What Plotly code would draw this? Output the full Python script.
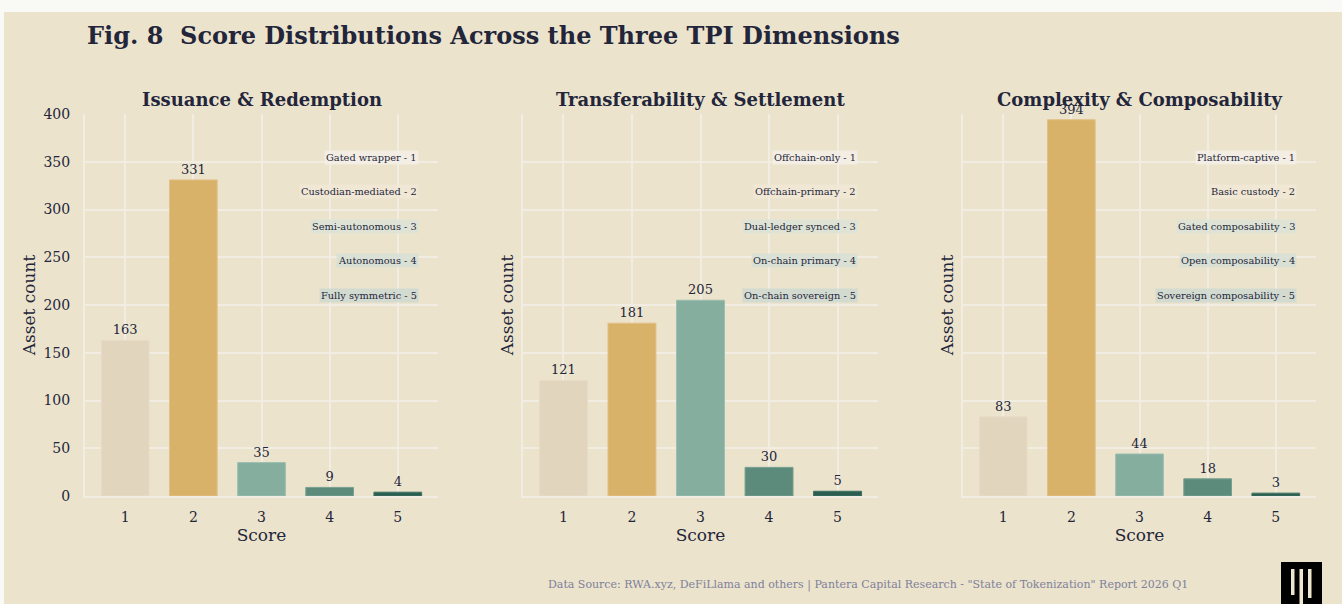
import plotly.graph_objects as go

# ---- data ----
scores = [1, 2, 3, 4, 5]
panel_titles = ["Issuance &amp; Redemption", "Transferability &amp; Settlement", "Complexity &amp; Composability"]
issuance_counts = [163, 331, 35, 9, 4]
transfer_counts = [121, 181, 205, 30, 5]
complexity_counts = [83, 394, 44, 18, 3]
issuance_labels = ["Gated wrapper", "Custodian-mediated", "Semi-autonomous", "Autonomous", "Fully symmetric"]
transfer_labels = ["Offchain-only", "Offchain-primary", "Dual-ledger synced", "On-chain primary", "On-chain sovereign"]
complexity_labels = ["Platform-captive", "Basic custody", "Gated composability", "Open composability", "Sovereign composability"]
y_ticks = [0, 50, 100, 150, 200, 250, 300, 350, 400]

title_text = "Fig. 8  Score Distributions Across the Three TPI Dimensions"
footer_text = 'Data Source: RWA.xyz, DeFiLlama and others | Pantera Capital Research - "State of Tokenization" Report 2026 Q1'

# ---- style ----
W, H = 1342, 604
ML, MR, MT, MB = 85, 26, 114, 108
PW = W - ML - MR
PH = H - MT - MB
FONT = "DejaVu Serif"
BG = "#ece3cd"
PAGE = "#f9f9f6"
GRID = "#f2ede3"
TXT = "#23263a"
bar_colors = ["#e2d5bd", "#d9b26a", "#86ae9f", "#5c8b7b", "#2b5e50"]
bar_lines = ["#e8dcc8", "#e2c08a", "#9cbfb1", "#78a091", "#3d7262"]
label_bgs = ["rgba(244,239,230,0.85)", "rgba(242,232,214,0.85)",
             "rgba(221,226,214,0.9)", "rgba(216,223,213,0.9)", "rgba(208,217,210,0.9)"]


def px_x(p):
    return (p - ML) / PW


def px_y(p):
    return (H - MB - p) / PH


domains = [[0.0, 353 / PW], [(523 - ML) / PW, (878 - ML) / PW], [(963 - ML) / PW, 1.0]]
counts_all = [issuance_counts, transfer_counts, complexity_counts]
labels_all = [issuance_labels, transfer_labels, complexity_labels]

fig = go.Figure()
annotations = []
for i in range(3):
    ax = "" if i == 0 else str(i + 1)
    fig.add_trace(go.Bar(
        x=scores, y=counts_all[i], xaxis="x" + ax, yaxis="y" + ax,
        width=0.7,
        marker=dict(color=bar_colors, line=dict(color=bar_lines, width=1)),
        text=[str(v) for v in counts_all[i]], textposition="outside",
        textfont=dict(family=FONT, size=13, color=TXT),
        cliponaxis=False, showlegend=False, hoverinfo="x+y",
    ))
    xa = dict(domain=domains[i], range=[0.41, 5.59], tickvals=scores,
              ticktext=[str(s) for s in scores],
              showgrid=True, gridcolor=GRID, gridwidth=2,
              showline=True, linecolor=GRID, linewidth=2,
              zeroline=False, ticks="", ticklabelstandoff=7,
              tickfont=dict(family=FONT, size=14, color=TXT),
              title=dict(text="Score", font=dict(family=FONT, size=17, color=TXT), standoff=4),
              anchor="y" + ax)
    ya = dict(domain=[0, 1], range=[0, 400], tickvals=y_ticks,
              showticklabels=(i == 0),
              showgrid=True, gridcolor=GRID, gridwidth=2,
              showline=True, linecolor=GRID, linewidth=2,
              zeroline=False, ticks="", ticklabelstandoff=10,
              tickfont=dict(family=FONT, size=14, color=TXT),
              title=dict(text="Asset count", font=dict(family=FONT, size=17, color=TXT),
                         standoff=4 if i == 0 else 3),
              anchor="x" + ax)
    fig.update_layout(**{"xaxis" + ax: xa, "yaxis" + ax: ya})

    # subplot title
    annotations.append(dict(
        text="<b>" + panel_titles[i] + "</b>", x=(domains[i][0] + domains[i][1]) / 2, y=px_y(100),
        xref="paper", yref="paper", xanchor="center", yanchor="middle", showarrow=False,
        font=dict(family=FONT, size=18, color=TXT)))
    # category labels
    for k in range(5):
        annotations.append(dict(
            text=f"{labels_all[i][k]} - {scores[k]}",
            x=0.945, y=0.887 - 0.0903 * k,
            xref=("x" + ax) + " domain", yref=("y" + ax) + " domain",
            xanchor="right", yanchor="middle", showarrow=False,
            bgcolor=label_bgs[k], borderpad=1,
            font=dict(family=FONT, size=9.8, color=TXT)))

# main title
annotations.append(dict(
    text="<b>" + title_text + "</b>", x=px_x(85), y=px_y(35), xref="paper", yref="paper",
    xanchor="left", yanchor="middle", showarrow=False,
    font=dict(family=FONT, size=24, color=TXT)))
# footer
annotations.append(dict(
    text=footer_text, x=px_x(868), y=px_y(585), xref="paper", yref="paper",
    xanchor="center", yanchor="middle", showarrow=False,
    font=dict(family=FONT, size=11, color="#7d819a")))

shapes = [
    dict(type="rect", xref="paper", yref="paper", layer="below",
         x0=px_x(4), x1=px_x(W + 2), y0=px_y(H + 2), y1=px_y(12),
         fillcolor=BG, line=dict(width=0)),
    # logo
    dict(type="rect", xref="paper", yref="paper", layer="above",
         x0=px_x(1281), x1=px_x(1322), y0=px_y(605), y1=px_y(562),
         fillcolor="#000000", line=dict(width=0)),
    dict(type="rect", xref="paper", yref="paper", layer="above",
         x0=px_x(1291), x1=px_x(1294.5), y0=px_y(595), y1=px_y(569),
         fillcolor="#efe6cf", line=dict(width=0)),
    dict(type="rect", xref="paper", yref="paper", layer="above",
         x0=px_x(1299.5), x1=px_x(1303), y0=px_y(605), y1=px_y(569),
         fillcolor="#efe6cf", line=dict(width=0)),
    dict(type="rect", xref="paper", yref="paper", layer="above",
         x0=px_x(1308), x1=px_x(1311.5), y0=px_y(598), y1=px_y(569),
         fillcolor="#efe6cf", line=dict(width=0)),
]

fig.update_layout(
    width=W, height=H, autosize=False,
    margin=dict(l=ML, r=MR, t=MT, b=MB),
    paper_bgcolor=PAGE, plot_bgcolor=BG,
    font=dict(family=FONT, color=TXT),
    annotations=annotations, shapes=shapes,
    bargap=0.3,
)

fig.write_html("out.html", config={"displayModeBar": False},
               post_script="document.body.style.margin='0px';document.body.style.overflow='hidden';")
